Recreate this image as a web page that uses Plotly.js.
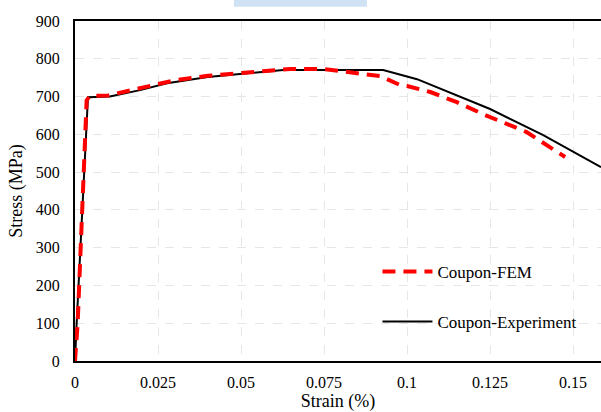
<!DOCTYPE html>
<html>
<head>
<meta charset="utf-8">
<script src="https://cdn.plot.ly/plotly-3.0.1.min.js"></script>
<style>html,body{margin:0;padding:0;background:#fff;}#chart{width:601px;height:412px;}</style>
</head>
<body>
<div id="chart"></div>
<script>
// Coupon-Experiment (black solid)
const expStrain = [0, 0.0005, 0.0039, 0.0105, 0.0196, 0.0277, 0.040, 0.0527, 0.0627, 0.0928, 0.103, 0.125, 0.141, 0.1584];
const expStress = [0, 100, 698, 700, 717, 735, 752, 762, 770, 770, 746, 667, 598, 513];
// Coupon-FEM (red dashed)
const femStrain = [0, 0.0008, 0.0035, 0.0045, 0.010, 0.020, 0.030, 0.040, 0.0548, 0.0648, 0.0747, 0.083, 0.092, 0.098, 0.100, 0.107, 0.115, 0.123, 0.129, 0.136, 0.143, 0.1476];
const femStress = [0, 100, 690, 702, 703, 722, 743, 755, 767, 773, 773, 765, 754, 730, 728, 712, 685, 653, 630, 606, 566, 540];
const xTicks = [0, 0.025, 0.05, 0.075, 0.1, 0.125, 0.15];
const xTickText = ['0', '0.025', '0.05', '0.075', '0.1', '0.125', '0.15'];
const yTicks = [0, 100, 200, 300, 400, 500, 600, 700, 800, 900];

const fam = 'Liberation Serif, Times New Roman, serif';
const tickFont = {family: fam, size: 16, color: '#000'};
const titleFont = {family: fam, size: 18, color: '#000'};
const legendFont = {family: fam, size: 17, color: '#000'};

const traces = [
  {x: expStrain, y: expStress, mode: 'lines', name: 'Coupon-Experiment',
   line: {color: '#000', width: 2}, legendgroup: 'b', legendrank: 2},
  {x: femStrain, y: femStress, mode: 'lines', name: 'Coupon-FEM',
   line: {color: '#ff0000', width: 4, dash: '13px,8px'}, legendgroup: 'a', legendrank: 1}
];

const layout = {
  width: 601, height: 412,
  margin: {l: 75, r: 0, t: 21, b: 51},
  paper_bgcolor: '#fff', plot_bgcolor: '#fff',
  font: tickFont,
  showlegend: true,
  legend: {x: 0.575, y: 0.315, xanchor: 'left', yanchor: 'top', bgcolor: 'rgba(0,0,0,0)',
           font: legendFont, tracegroupgap: 25, itemwidth: 50},
  xaxis: {range: [0, 0.1584], tickvals: xTicks, ticktext: xTickText, ticks: '',
          showline: true, linecolor: '#000', linewidth: 2, mirror: true,
          showgrid: true, gridcolor: '#e6e6e6', griddash: 'dash', gridwidth: 1,
          zeroline: false, tickfont: tickFont, ticklabelstandoff: 6,
          title: {text: 'Strain (%)', font: titleFont, standoff: 4}},
  yaxis: {range: [0, 900], tickvals: yTicks, ticks: '',
          showline: true, linecolor: '#000', linewidth: 2,
          showgrid: true, gridcolor: '#e6e6e6', griddash: 'dash', gridwidth: 1,
          zeroline: false, tickfont: tickFont, ticklabelstandoff: 10,
          title: {text: 'Stress (MPa)', font: titleFont, standoff: 8}},
  shapes: [
    {type: 'rect', xref: 'paper', yref: 'paper', x0: 0.302, x1: 0.555, y0: 1.042, y1: 1.062,
     fillcolor: '#cfe3f5', line: {width: 0}}
  ]
};

Plotly.newPlot('chart', traces, layout, {displayModeBar: false, staticPlot: true});
</script>
</body>
</html>
